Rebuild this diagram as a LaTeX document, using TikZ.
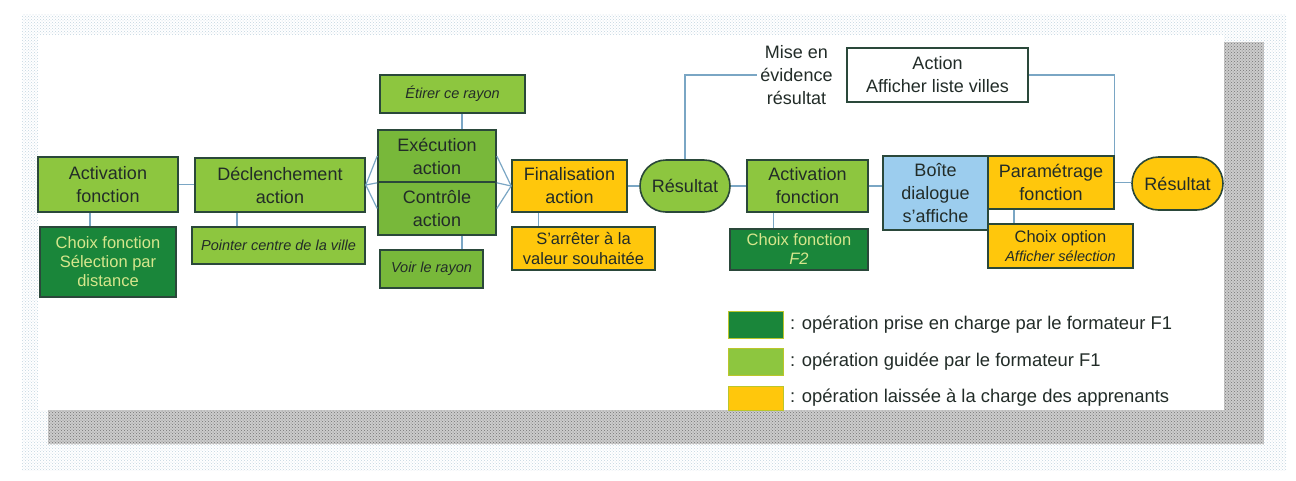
\documentclass[tikz,border=0pt]{standalone}
\usepackage{fontspec}
\setmainfont{Liberation Sans}
\usepackage{tikz}
\usetikzlibrary{shapes.misc,patterns,positioning,calc}
\definecolor{leafgreen}{RGB}{141,198,63}
\definecolor{midgreen}{RGB}{120,184,58}
\definecolor{deepgreen}{RGB}{26,134,58}
\definecolor{sunyellow}{RGB}{255,199,12}
\definecolor{skyblue}{RGB}{156,205,238}
\definecolor{edgecol}{RGB}{42,72,58}
\definecolor{linkcol}{RGB}{122,166,196}
\definecolor{inkcol}{RGB}{34,44,40}
\definecolor{palecol}{RGB}{214,230,140}
\definecolor{dotcol}{RGB}{120,160,185}

\begin{document}
\begin{tikzpicture}[x=1pt, y=-1pt,
        box/.style={rectangle, draw=edgecol, line width=1.6pt, align=center, inner sep=2pt, text=inkcol, font=\fontsize{18}{23}\selectfont},
        light/.style={box, fill=leafgreen},
        dark/.style={box, fill=deepgreen, text=palecol, font=\fontsize{16.5}{19}\selectfont},
        gold/.style={box, fill=sunyellow},
        term/.style={rounded rectangle, draw=edgecol, line width=1.6pt, inner sep=2pt, text=inkcol, font=\fontsize{18}{23}\selectfont},
        hint/.style={font=\fontsize{14.5}{18}\selectfont\itshape},
        key/.style={rectangle, draw=sunyellow!40!leafgreen, line width=1pt, minimum width=55pt, minimum height=27pt},
        keytext/.style={anchor=west, text=inkcol, font=\fontsize{18.4}{22}\selectfont},
        link/.style={draw=linkcol, line width=1.2pt}]

        \useasboundingbox (0,0) rectangle (1296,480);

        % Frame and shadow
        \fill[pattern=crosshatch dots, pattern color=dotcol!45] (22,14) rectangle (1286,470);
        \fill[gray!40] (48,42) rectangle (1264,444);
        \fill[pattern=crosshatch dots, pattern color=black!55] (48,42) rectangle (1264,444);
        \fill[white] (38,35) rectangle (1224,410);

        % First sequence
        \node[light, minimum width=140pt, minimum height=55pt] (act1) at (108,184.5) {Activation\\fonction};
        \node[dark, minimum width=136pt, minimum height=70pt] (choix1) at (108,262) {Choix fonction\\Sélection par\\distance};
        \node[light, minimum width=170pt, minimum height=54pt] (decl) at (280,185) {Déclenchement\\action};
        \node[light, hint, minimum width=173pt, minimum height=37pt] (pointer) at (278.5,245.5) {Pointer centre de la ville};
        \node[light, hint, minimum width=145pt, minimum height=38pt] (etirer) at (452.5,94) {Étirer ce rayon};
        \node[box, fill=midgreen, minimum width=118pt, minimum height=52pt] (exec) at (437,156) {Exécution\\action};
        \node[box, fill=midgreen, minimum width=118pt, minimum height=53pt] (ctrl) at (437,208.5) {Contrôle\\action};
        \node[box, fill=midgreen, hint, minimum width=103pt, minimum height=38pt] (voir) at (431.5,269) {Voir le rayon};
        \node[gold, minimum width=115pt, minimum height=52pt] (final) at (569.5,186) {Finalisation\\action};
        \node[gold, font=\fontsize{16.5}{20}\selectfont, minimum width=143pt, minimum height=43pt] (arret) at (583.5,248.5) {S'arrêter à la\\valeur souhaitée};
        \node[term, fill=leafgreen, minimum width=94pt, minimum height=52pt] (res1) at (685,186) {Résultat};

        % Second sequence
        \node[light, minimum width=121pt, minimum height=52pt] (act2) at (807.5,186) {Activation\\fonction};
        \node[dark, minimum width=138pt, minimum height=41pt] (choix2) at (799,249.5) {Choix fonction\\\textit{F2}};
        \node[box, fill=skyblue, minimum width=105pt, minimum height=74pt] (boite) at (935.5,193) {Boîte\\dialogue\\s'affiche};
        \node[gold, minimum width=126pt, minimum height=53pt] (param) at (1051,182.5) {Paramétrage\\fonction};
        \node[gold, font=\fontsize{16.5}{19}\selectfont, minimum width=145pt, minimum height=44pt] (option) at (1060.5,246) {Choix option\\{\fontsize{14.5}{17}\selectfont\itshape Afficher sélection}};
        \node[term, fill=sunyellow, minimum width=95pt, minimum height=53pt] (res2) at (1177.5,183.5) {Résultat};
        \node[align=center, text=inkcol, font=\fontsize{18}{23}\selectfont] (mise) at (796.5,75) {Mise en\\évidence\\résultat};
        \node[box, fill=white, minimum width=181pt, minimum height=54pt] (action) at (937.5,75) {Action\\Afficher liste villes};

        % Connections
        \draw[link] (act1.east) -- (act1.east -| decl.west);
        \draw[link] ([xshift=-18pt]act1.south) -- ([xshift=-18pt]act1.south |- choix1.north);
        \draw[link] ([xshift=-43pt]decl.south) -- ([xshift=-43pt]decl.south |- pointer.north);
        \draw[link] (decl.east) -- (exec.west);
        \draw[link] (decl.east) -- (exec.south west);
        \draw[link] (decl.east) -- (ctrl.west);
        \draw[link] ([xshift=25pt]exec.north) -- ([xshift=25pt]exec.north |- etirer.south);
        \draw[link] ([xshift=25pt]ctrl.south) -- ([xshift=25pt]ctrl.south |- voir.north);
        \draw[link] (exec.east) -- (final.west);
        \draw[link] (exec.south east) -- (final.west);
        \draw[link] (ctrl.east) -- (final.west);
        \draw[link] ([xshift=-31pt]final.south) -- ([xshift=-31pt]final.south |- arret.north);
        \draw[link] (final.east) -- (res1.west);
        \draw[link] (res1.east) -- (act2.west);
        \draw[link] (res1.north) |- (mise.west);
        \draw[link] ([xshift=-34pt]act2.south) -- ([xshift=-34pt]act2.south |- choix2.north);
        \draw[link] (act2.east) -- (act2.east -| boite.west);
        \draw[link] (action.east) -| (param.north east);
        \draw[link] ([xshift=-37pt]param.south) -- ([xshift=-37pt]param.south |- option.north);
        \draw[link] (param.east) -- (param.east -| res2.west);

        % Legend
        \node[key, fill=deepgreen] (k1) at (755.5,325) {};
        \node[key, fill=leafgreen] (k2) at (755.5,362) {};
        \node[key, fill=sunyellow, minimum height=24pt] (k3) at (755.5,398) {};
        \node[keytext, right=3pt of k1] (t1) {: opération prise en charge par le formateur F1};
        \node[keytext, right=3pt of k2] (t2) {: opération guidée par le formateur F1};
        \node[keytext, right=3pt of k3] (t3) {: opération laissée à la charge des apprenants};

    \end{tikzpicture}
\end{document}
